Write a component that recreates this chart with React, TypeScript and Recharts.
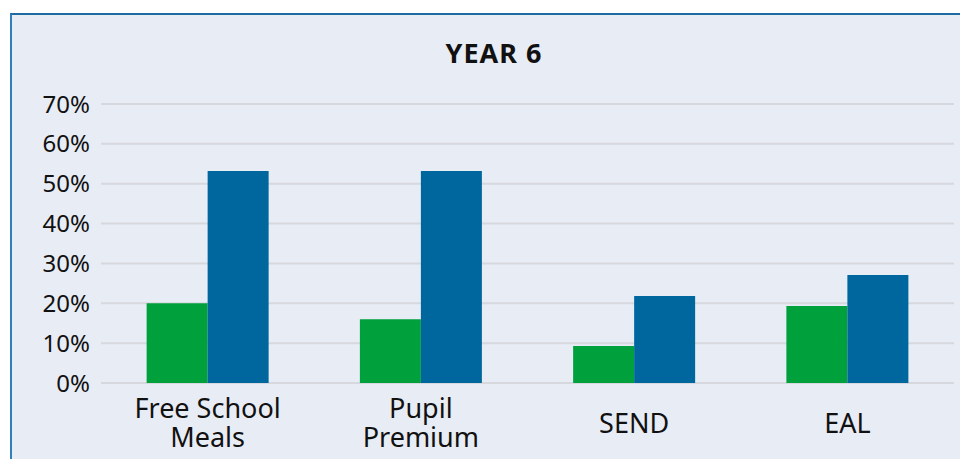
import { BarChart, Bar, XAxis, YAxis, CartesianGrid } from "recharts";

const categories = ["Free School Meals", "Pupil Premium", "SEND", "EAL"];
const greenValues = [0.2, 0.16, 0.093, 0.193];
const blueValues = [0.532, 0.532, 0.218, 0.271];
const yTicks = [0, 0.1, 0.2, 0.3, 0.4, 0.5, 0.6, 0.7];

const labelLines: Record<string, string[]> = {
  "Free School Meals": ["Free School", "Meals"],
  "Pupil Premium": ["Pupil", "Premium"],
};

const FONT = "'Noto Sans', sans-serif";

const XTick = (props: any) => {
  const { x, y, payload } = props;
  const lines = labelLines[payload.value] || [payload.value];
  const first = lines.length > 1 ? y + 35 : y + 50;
  return (
    <text x={x} y={first} textAnchor="middle" fill="#111" fontSize={27} fontFamily={FONT}>
      {lines.map((line, i) => (
        <tspan key={i} x={x} y={first + i * 29}>
          {line}
        </tspan>
      ))}
    </text>
  );
};

const App = () => {
  const data = categories.map((name, i) => ({
    name,
    green: greenValues[i],
    blue: blueValues[i],
  }));

  return (
    <div
      style={{
        position: "fixed",
        left: 0,
        top: 0,
        width: 960,
        height: 459,
        background: "#fff",
        overflow: "hidden",
      }}
    >
      <div
        style={{
          position: "absolute",
          left: 10,
          top: 13,
          width: 960,
          height: 460,
          background: "#e8ecf5",
          borderLeft: "2px solid #2f7fb8",
          borderTop: "2px solid #1f6aa0",
        }}
      />
      <svg width={960} height={459} style={{ position: "absolute", left: 0, top: 0 }}>
        <text
          x={494}
          y={63}
          textAnchor="middle"
          fontFamily={FONT}
          fontWeight={700}
          fontSize={27}
          letterSpacing={1}
          fill="#111"
        >
          YEAR 6
        </text>
      </svg>
      <div style={{ position: "absolute", left: 0, top: 0 }}>
        <BarChart
          width={960}
          height={459}
          data={data}
          margin={{ top: 104, right: 6, left: 0, bottom: 0 }}
          barCategoryGap="21.4%"
          barGap={0}
        >
          <CartesianGrid vertical={false} stroke="#d6d8dd" strokeWidth={2} />
          <XAxis
            dataKey="name"
            height={76}
            axisLine={false}
            tickLine={false}
            tickSize={0}
            tickMargin={0}
            interval={0}
            tick={<XTick />}
          />
          <YAxis
            width={101}
            domain={[0, 0.7]}
            ticks={yTicks}
            axisLine={false}
            tickLine={false}
            tickSize={0}
            tickMargin={11}
            tickFormatter={(v: number) => `${Math.round(v * 100)}%`}
            tick={{ fill: "#111", fontSize: 24, fontFamily: FONT }}
          />
          <Bar dataKey="green" fill="#00a03c" isAnimationActive={false} />
          <Bar dataKey="blue" fill="#00679e" isAnimationActive={false} />
        </BarChart>
      </div>
    </div>
  );
};

export default App;
